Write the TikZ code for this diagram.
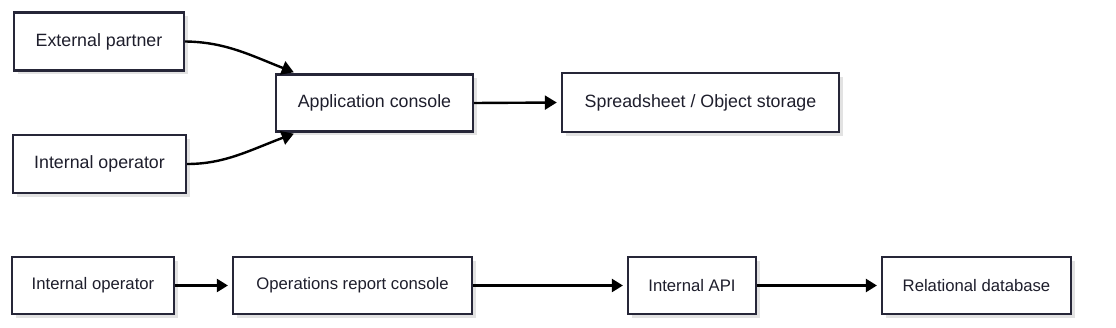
\documentclass[tikz,border=0pt]{standalone}
\usepackage{fontspec}
\setmainfont{Liberation Sans}
\usetikzlibrary{arrows.meta,shadows,calc}
\definecolor{boxline}{HTML}{262638}
\definecolor{boxtext}{HTML}{1E1E2C}
\definecolor{shadowgray}{HTML}{E2E2E2}
\tikzset{
  x=1pt,y=-1pt,
  box/.style={draw=boxline,line width=2.4pt,fill=white,inner sep=0pt,
    text=boxtext,font=\fontsize{17.8}{21}\selectfont,
    drop shadow={shadow xshift=4pt,shadow yshift=-4pt,fill=shadowgray,opacity=1}},
  smallbox/.style={box,line width=2.2pt,font=\fontsize{16.7}{20}\selectfont},
  conn/.style={draw=black,line width=2.4pt,-{Triangle[length=12pt,width=14pt]}},
  smallconn/.style={draw=black,line width=2.2pt,-{Triangle[length=11pt,width=13pt]}},
}
\begin{document}
\begin{tikzpicture}
\useasboundingbox (0,0) rectangle (1116,328);
\node[box,minimum width=170pt,minimum height=58pt] (ext) at (99,41.5) {External partner};
\node[box,minimum width=173pt,minimum height=58pt] (iop1) at (99.5,164) {Internal operator};
\node[box,minimum width=197pt,minimum height=57pt] (app) at (374.5,103) {Application console};
\node[box,minimum width=277pt,minimum height=59pt] (sheet) at (700.5,102.5) {Spreadsheet / Object storage};
\node[smallbox,minimum width=162pt,minimum height=57pt] (iop2) at (93,285.5) {Internal operator};
\node[smallbox,minimum width=239pt,minimum height=57pt] (ops) at (352.5,285.5) {Operations report console};
\node[smallbox,minimum width=128pt,minimum height=57pt] (api) at (692,285.5) {Internal API};
\node[smallbox,minimum width=189pt,minimum height=57pt] (rdb) at (976.5,285.5) {Relational database};
\coordinate (appin1) at ($(app.north west)+(19,-1)$);
\coordinate (appin2) at ($(app.south west)+(19,1)$);
\draw[conn] (ext.east) .. controls (225,42) and (250,55) .. (appin1);
\draw[conn] (iop1.east) .. controls (225,164) and (250,150) .. (appin2);
\draw[conn,shorten >=4pt] (app.east) -- (sheet.west);
\draw[smallconn,shorten >=4pt] (iop2.east) -- (ops.west);
\draw[smallconn,shorten >=4pt] (ops.east) -- (api.west);
\draw[smallconn,shorten >=4pt] (api.east) -- (rdb.west);
\end{tikzpicture}
\end{document}
